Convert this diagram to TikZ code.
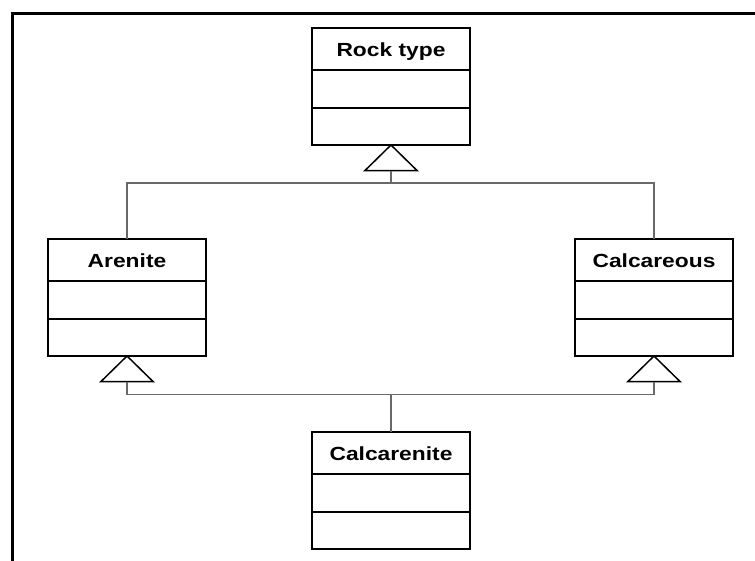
\documentclass[tikz,border=0pt]{standalone}
\usepackage{fontspec}
\setmainfont{Liberation Sans}
\usetikzlibrary{calc}

\tikzset{
  classbox/.style={draw=black, line width=2pt, fill=white, minimum width=158pt,
                   minimum height=117pt, inner sep=0pt, outer sep=0pt},
  classname/.style={font=\fontsize{19}{22}\selectfont\bfseries, inner sep=0pt, anchor=base},
  divider/.style={draw=black, line width=1.8pt},
  genhead/.style={draw=black, line width=1.5pt, fill=white, line join=miter},
  conn/.style={draw={rgb,255:red,105;green,105;blue,105}, line width=1.3pt},
  frameline/.style={draw=black, line width=2.6pt}
}

% UML class with an empty attribute and an empty operation compartment
\newcommand{\umlclassbox}[4]{%
  \node[classbox] (#1) at (#2,#3) {};
  \node[classname] (#1-name) at ($(#1.north)+(0,28.5)$) {\scalebox{1.2}[1]{#4}};
  \draw[divider] ($(#1.north west)+(0,42)$) -- ($(#1.north east)+(0,42)$);
  \draw[divider] ($(#1.north west)+(0,80)$) -- ($(#1.north east)+(0,80)$);
}

% hollow generalization triangle under a class, with a coordinate at its base
\newcommand{\genarrow}[1]{%
  \draw[genhead] (#1.south) -- ++(26,25.5) -- ++(-52,0) -- cycle;
  \coordinate (#1-base) at ($(#1.south)+(0,25.5)$);
}

\begin{document}
\begin{tikzpicture}[x=1pt, y=-1pt]
  \useasboundingbox (0,0) rectangle (755,560);
  \fill[white] (0,0) rectangle (755,560);

  % frame
  \draw[frameline] (12.3,562) -- (12.3,13.3) -- (757,13.3);

  % classes
  \umlclassbox{rock}{391}{86.5}{Rock type}
  \umlclassbox{arenite}{127}{297.5}{Arenite}
  \umlclassbox{calcareous}{654}{297.5}{Calcareous}
  \umlclassbox{calcarenite}{391}{490.5}{Calcarenite}

  % bus junctions
  \coordinate (topbus) at (391,183);
  \coordinate (botbus) at (391,394.5);

  % Arenite and Calcareous specialize Rock type
  \draw[conn] (arenite.north) |- (topbus) -| (calcareous.north);
  \genarrow{rock}
  \draw[conn] (rock-base) -- (topbus);

  % Calcarenite specializes Arenite and Calcareous
  \genarrow{arenite}
  \genarrow{calcareous}
  \draw[conn] (arenite-base) |- (botbus) -| (calcareous-base);
  \draw[conn] (botbus) -- (calcarenite.north);
\end{tikzpicture}
\end{document}
